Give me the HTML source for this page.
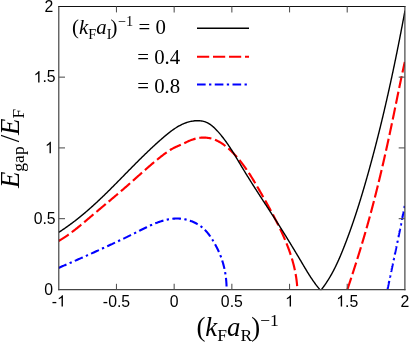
<!DOCTYPE html>
<html><head><meta charset="utf-8"><style>
html,body{margin:0;padding:0;background:#fff;}
svg{display:block;will-change:transform;opacity:0.9999}
.t text{font-family:"Liberation Sans",sans-serif;font-size:15.8px;fill:#000}
.s{font-family:"Liberation Serif",serif;fill:#000}
.i{font-style:italic}
</style></head><body>
<svg width="409" height="342" viewBox="0 0 409 342">
<rect width="409" height="342" fill="#fff"/>
<defs><clipPath id="c"><rect x="58.8" y="6.4" width="346.09999999999997" height="283.8"/></clipPath></defs>
<g clip-path="url(#c)" fill="none">
<path d="M58.54,267.92L59.07,267.69L59.60,267.46L60.13,267.23L60.66,267.00L61.19,266.77L61.72,266.54L62.24,266.31L62.77,266.09L63.30,265.86L63.83,265.63L64.35,265.40L64.88,265.17L65.40,264.95L65.93,264.72L66.45,264.49L66.98,264.26L67.50,264.03L68.02,263.81L68.55,263.58L69.07,263.35L69.59,263.13L70.11,262.90L70.63,262.67L71.15,262.44L71.67,262.22L72.19,261.99L72.71,261.76L73.23,261.54L73.75,261.31L74.27,261.08L74.78,260.86L75.30,260.63L75.82,260.40L76.34,260.18L76.85,259.95L77.37,259.72L77.88,259.50L78.40,259.27L78.91,259.04L79.43,258.82L79.94,258.59L80.46,258.36L80.97,258.14L81.49,257.91L82.00,257.68L82.51,257.46L83.02,257.23L83.54,257.00L84.05,256.77L84.56,256.55L85.07,256.32L85.58,256.09L86.09,255.87L86.60,255.64L87.11,255.41L87.63,255.18L88.14,254.96L88.65,254.73L89.15,254.50L89.66,254.27L90.17,254.05L90.68,253.82L91.19,253.59L91.70,253.36L92.21,253.13L92.72,252.90L93.22,252.68L93.73,252.45L94.24,252.22L94.75,251.99L95.25,251.76L95.76,251.53L96.27,251.30L96.78,251.07L97.28,250.84L97.79,250.61L98.30,250.38L98.80,250.15L99.31,249.92L99.81,249.69L100.32,249.46L100.83,249.23L101.33,249.00L101.84,248.77L102.34,248.54L102.85,248.30L103.35,248.07L103.86,247.84L104.36,247.61L104.87,247.38L105.38,247.14L105.88,246.91L106.39,246.68L106.89,246.44L107.40,246.21L107.90,245.97L108.41,245.74L108.91,245.51L109.42,245.27L109.92,245.04L110.43,244.80L110.93,244.57L111.44,244.33L111.94,244.09L112.45,243.86L112.95,243.62L113.46,243.38L113.96,243.15L114.47,242.91L114.97,242.67L115.48,242.43L115.98,242.19L116.49,241.96L116.99,241.72L117.50,241.48L118.00,241.24L118.51,241.00L119.02,240.76L119.52,240.52L120.03,240.27L120.53,240.03L121.04,239.79L121.55,239.55L122.05,239.31L122.56,239.06L123.07,238.82L123.57,238.58L124.08,238.33L124.59,238.09L125.09,237.84L125.60,237.60L126.11,237.35L126.62,237.11L127.12,236.86L127.63,236.61L128.14,236.36L128.65,236.12L129.16,235.87L129.67,235.62L130.18,235.37L130.69,235.12L131.19,234.87L131.70,234.62L132.21,234.37L132.72,234.12L133.23,233.87L133.75,233.62L134.26,233.36L134.77,233.11L135.28,232.86L135.79,232.60L136.30,232.35L136.81,232.09L137.33,231.84L137.84,231.58L138.35,231.32L138.87,231.07L139.38,230.81L139.89,230.55L140.41,230.30L140.92,230.04L141.44,229.78L141.95,229.53L142.47,229.27L142.98,229.01L143.50,228.76L144.02,228.50L144.53,228.25L145.05,228.00L145.57,227.75L146.09,227.50L146.60,227.25L147.12,227.00L147.64,226.75L148.16,226.51L148.68,226.26L149.20,226.02L149.72,225.78L150.24,225.54L150.77,225.31L151.29,225.08L151.81,224.84L152.33,224.62L152.86,224.39L153.38,224.17L153.90,223.95L154.43,223.73L154.95,223.51L155.48,223.30L156.01,223.09L156.53,222.89L157.06,222.68L157.59,222.49L158.11,222.29L158.64,222.10L159.17,221.91L159.70,221.73L160.23,221.55L160.76,221.37L161.29,221.20L161.82,221.03L162.36,220.87L162.89,220.71L163.42,220.56L163.96,220.41L164.49,220.26L165.02,220.12L165.56,219.99L166.10,219.86L166.63,219.74L167.17,219.62L167.71,219.50L168.25,219.40L168.78,219.30L169.32,219.20L169.86,219.11L170.40,219.03L170.95,218.95L171.49,218.88L172.03,218.81L172.57,218.75L173.12,218.70L173.66,218.65L174.21,218.61L174.75,218.58L175.30,218.55L175.85,218.54L176.39,218.53L176.94,218.52L177.49,218.52L178.04,218.54L178.59,218.55L179.14,218.58L179.69,218.61L180.25,218.66L180.80,218.70L181.35,218.76L181.91,218.83L182.46,218.90L183.02,218.98L183.57,219.07L184.13,219.17L184.68,219.28L185.24,219.39L185.79,219.51L186.34,219.64L186.90,219.78L187.45,219.92L188.00,220.08L188.54,220.24L189.09,220.40L189.63,220.58L190.17,220.76L190.71,220.95L191.25,221.15L191.78,221.35L192.32,221.57L192.84,221.79L193.37,222.01L193.89,222.25L194.41,222.49L194.92,222.74L195.44,222.99L195.94,223.26L196.44,223.53L196.94,223.80L197.44,224.09L197.93,224.38L198.41,224.68L198.89,224.98L199.36,225.30L199.83,225.61L200.29,225.94L200.75,226.27L201.20,226.61L201.64,226.96L202.08,227.31L202.51,227.67L202.94,228.04L203.36,228.41L203.77,228.79L204.18,229.17L204.58,229.56L204.97,229.96L205.36,230.36L205.75,230.76L206.13,231.18L206.50,231.59L206.87,232.01L207.23,232.44L207.59,232.87L207.94,233.31L208.29,233.75L208.63,234.19L208.97,234.64L209.31,235.09L209.64,235.54L209.97,236.00L210.29,236.46L210.61,236.93L210.93,237.40L211.24,237.87L211.55,238.34L211.86,238.82L212.16,239.29L212.46,239.77L212.76,240.26L213.05,240.74L213.34,241.23L213.63,241.71L213.92,242.20L214.20,242.69L214.49,243.18L214.77,243.68L215.04,244.17L215.32,244.66L215.59,245.16L215.86,245.66L216.12,246.16L216.39,246.66L216.65,247.16L216.90,247.66L217.16,248.16L217.41,248.67L217.66,249.18L217.90,249.68L218.14,250.19L218.38,250.70L218.61,251.21L218.84,251.73L219.07,252.24L219.29,252.75L219.51,253.27L219.73,253.79L219.94,254.30L220.15,254.82L220.36,255.34L220.56,255.87L220.76,256.39L220.96,256.91L221.15,257.44L221.34,257.96L221.52,258.49L221.70,259.02L221.88,259.55L222.06,260.08L222.23,260.61L222.40,261.14L222.56,261.67L222.73,262.21L222.89,262.74L223.04,263.28L223.19,263.82L223.34,264.35L223.49,264.89L223.63,265.43L223.77,265.97L223.90,266.52L224.03,267.06L224.16,267.60L224.28,268.15L224.41,268.69L224.52,269.24L224.64,269.79L224.75,270.34L224.86,270.89L224.96,271.44L225.07,271.99L225.16,272.54L225.26,273.09L225.35,273.64L225.44,274.20L225.52,274.75L225.61,275.31L225.68,275.87L225.76,276.42L225.83,276.98L225.90,277.54L225.97,278.10L226.03,278.66L226.09,279.22L226.14,279.79L226.19,280.35L226.24,280.91L226.29,281.48L226.33,282.04L226.37,282.61L226.41,283.17L226.44,283.74L226.47,284.31L226.50,284.88L226.52,285.45L226.54,286.01L226.56,286.58L226.57,287.16L226.58,287.73L226.59,288.30L226.59,288.87L226.59,289.45" stroke="#00f" stroke-width="2.1" stroke-dasharray="8.65 3.4 2.3 3.4"/>
<path d="M387.52,289.40L387.56,289.19L387.60,288.98L387.65,288.77L387.69,288.56L387.73,288.34L387.78,288.13L387.82,287.92L387.87,287.71L387.91,287.50L387.95,287.29L388.00,287.07L388.04,286.86L388.09,286.65L388.13,286.44L388.17,286.23L388.22,286.02L388.26,285.80L388.30,285.59L388.35,285.38L388.39,285.17L388.44,284.96L388.48,284.74L388.52,284.53L388.57,284.32L388.61,284.11L388.66,283.90L388.70,283.69L388.74,283.47L388.79,283.26L388.83,283.05L388.88,282.84L388.92,282.63L388.97,282.42L389.01,282.20L389.05,281.99L389.10,281.78L389.14,281.57L389.19,281.36L389.23,281.15L389.27,280.93L389.32,280.72L389.36,280.51L389.41,280.30L389.45,280.09L389.50,279.88L389.54,279.66L389.58,279.45L389.63,279.24L389.67,279.03L389.72,278.82L389.76,278.61L389.81,278.39L389.85,278.18L389.89,277.97L389.94,277.76L389.98,277.55L390.03,277.34L390.07,277.12L390.12,276.91L390.16,276.70L390.20,276.49L390.25,276.28L390.29,276.07L390.34,275.85L390.38,275.64L390.43,275.43L390.47,275.22L390.51,275.01L390.56,274.80L390.60,274.59L390.65,274.37L390.69,274.16L390.74,273.95L390.78,273.74L390.83,273.53L390.87,273.32L390.91,273.10L390.96,272.89L391.00,272.68L391.05,272.47L391.09,272.26L391.14,272.05L391.18,271.83L391.23,271.62L391.27,271.41L391.31,271.20L391.36,270.99L391.40,270.78L391.45,270.56L391.49,270.35L391.54,270.14L391.58,269.93L391.63,269.72L391.67,269.51L391.71,269.29L391.76,269.08L391.80,268.87L391.85,268.66L391.89,268.45L391.94,268.24L391.98,268.03L392.03,267.81L392.07,267.60L392.12,267.39L392.16,267.18L392.20,266.97L392.25,266.76L392.29,266.54L392.34,266.33L392.38,266.12L392.43,265.91L392.47,265.70L392.52,265.49L392.56,265.27L392.61,265.06L392.65,264.85L392.69,264.64L392.74,264.43L392.78,264.22L392.83,264.01L392.87,263.79L392.92,263.58L392.96,263.37L393.01,263.16L393.05,262.95L393.10,262.74L393.14,262.52L393.19,262.31L393.23,262.10L393.27,261.89L393.32,261.68L393.36,261.47L393.41,261.25L393.45,261.04L393.50,260.83L393.54,260.62L393.59,260.41L393.63,260.20L393.68,259.99L393.72,259.77L393.76,259.56L393.81,259.35L393.85,259.14L393.90,258.93L393.94,258.72L393.99,258.50L394.03,258.29L394.08,258.08L394.12,257.87L394.17,257.66L394.21,257.45L394.25,257.23L394.30,257.02L394.34,256.81L394.39,256.60L394.43,256.39L394.48,256.18L394.52,255.97L394.57,255.75L394.61,255.54L394.65,255.33L394.70,255.12L394.74,254.91L394.79,254.70L394.83,254.48L394.88,254.27L394.92,254.06L394.97,253.85L395.01,253.64L395.06,253.43L395.10,253.21L395.14,253.00L395.19,252.79L395.23,252.58L395.28,252.37L395.32,252.16L395.37,251.94L395.41,251.73L395.46,251.52L395.50,251.31L395.54,251.10L395.59,250.89L395.63,250.68L395.68,250.46L395.72,250.25L395.77,250.04L395.81,249.83L395.85,249.62L395.90,249.41L395.94,249.19L395.99,248.98L396.03,248.77L396.08,248.56L396.12,248.35L396.16,248.14L396.21,247.92L396.25,247.71L396.30,247.50L396.34,247.29L396.39,247.08L396.43,246.87L396.47,246.65L396.52,246.44L396.56,246.23L396.61,246.02L396.65,245.81L396.70,245.60L396.74,245.38L396.78,245.17L396.83,244.96L396.87,244.75L396.92,244.54L396.96,244.33L397.00,244.11L397.05,243.90L397.09,243.69L397.14,243.48L397.18,243.27L397.23,243.06L397.27,242.84L397.31,242.63L397.36,242.42L397.40,242.21L397.45,242.00L397.49,241.79L397.53,241.57L397.58,241.36L397.62,241.15L397.67,240.94L397.71,240.73L397.75,240.52L397.80,240.30L397.84,240.09L397.89,239.88L397.93,239.67L397.97,239.46L398.02,239.25L398.06,239.03L398.11,238.82L398.15,238.61L398.19,238.40L398.24,238.19L398.28,237.98L398.32,237.76L398.37,237.55L398.41,237.34L398.46,237.13L398.50,236.92L398.54,236.70L398.59,236.49L398.63,236.28L398.67,236.07L398.72,235.86L398.76,235.65L398.81,235.43L398.85,235.22L398.89,235.01L398.94,234.80L398.98,234.59L399.02,234.38L399.07,234.16L399.11,233.95L399.15,233.74L399.20,233.53L399.24,233.32L399.28,233.10L399.33,232.89L399.37,232.68L399.42,232.47L399.46,232.26L399.50,232.05L399.55,231.83L399.59,231.62L399.63,231.41L399.68,231.20L399.72,230.99L399.76,230.77L399.81,230.56L399.85,230.35L399.89,230.14L399.94,229.93L399.98,229.72L400.02,229.50L400.07,229.29L400.11,229.08L400.15,228.87L400.19,228.66L400.24,228.44L400.28,228.23L400.32,228.02L400.37,227.81L400.41,227.60L400.45,227.39L400.50,227.17L400.54,226.96L400.58,226.75L400.63,226.54L400.67,226.33L400.71,226.11L400.75,225.90L400.80,225.69L400.84,225.48L400.88,225.27L400.93,225.05L400.97,224.84L401.01,224.63L401.05,224.42L401.10,224.21L401.14,223.99L401.18,223.78L401.23,223.57L401.27,223.36L401.31,223.15L401.35,222.93L401.40,222.72L401.44,222.51L401.48,222.30L401.52,222.09L401.57,221.87L401.61,221.66L401.65,221.45L401.69,221.24L401.74,221.03L401.78,220.81L401.82,220.60L401.86,220.39L401.91,220.18L401.95,219.97L401.99,219.75L402.03,219.54L402.08,219.33L402.12,219.12L402.16,218.91L402.20,218.69L402.24,218.48L402.29,218.27L402.33,218.06L402.37,217.85L402.41,217.63L402.46,217.42L402.50,217.21L402.54,217.00L402.58,216.79L402.62,216.57L402.67,216.36L402.71,216.15L402.75,215.94L402.79,215.72L402.83,215.51L402.87,215.30L402.92,215.09L402.96,214.88L403.00,214.66L403.04,214.45L403.08,214.24L403.13,214.03L403.17,213.82L403.21,213.60L403.25,213.39L403.29,213.18L403.33,212.97L403.38,212.75L403.42,212.54L403.46,212.33L403.50,212.12L403.54,211.91L403.58,211.69L403.62,211.48L403.67,211.27L403.71,211.06L403.75,210.84L403.79,210.63L403.83,210.42L403.87,210.21L403.91,210.00L403.95,209.78L404.00,209.57L404.04,209.36L404.08,209.15L404.12,208.93L404.16,208.72L404.20,208.51L404.24,208.30L404.28,208.08L404.32,207.87L404.37,207.66L404.41,207.45L404.45,207.24L404.49,207.02L404.53,206.81L404.57,206.60L404.61,206.39L404.65,206.17L404.69,205.96L404.73,205.75L404.77,205.54L404.81,205.32L404.85,205.11L404.89,204.90" stroke="#00f" stroke-width="2.1" stroke-dasharray="8.65 3.4 2.3 3.4"/>
<path d="M58.59,240.99L59.39,240.52L60.19,240.05L60.98,239.57L61.77,239.09L62.55,238.60L63.33,238.10L64.11,237.60L64.88,237.09L65.65,236.58L66.41,236.06L67.17,235.54L67.92,235.01L68.67,234.48L69.42,233.94L70.17,233.40L70.91,232.86L71.65,232.31L72.38,231.75L73.12,231.20L73.85,230.64L74.57,230.07L75.30,229.51L76.02,228.94L76.74,228.36L77.46,227.79L78.18,227.21L78.89,226.63L79.60,226.05L80.31,225.46L81.02,224.87L81.73,224.29L82.44,223.70L83.15,223.10L83.85,222.51L84.56,221.92L85.26,221.32L85.96,220.73L86.66,220.13L87.37,219.53L88.07,218.94L88.77,218.34L89.47,217.74L90.17,217.15L90.88,216.55L91.58,215.95L92.28,215.36L92.99,214.76L93.69,214.17L94.39,213.57L95.10,212.98L95.80,212.38L96.51,211.79L97.21,211.20L97.92,210.61L98.62,210.01L99.33,209.42L100.03,208.83L100.74,208.24L101.45,207.65L102.15,207.05L102.86,206.46L103.56,205.87L104.27,205.28L104.98,204.69L105.68,204.10L106.39,203.51L107.09,202.91L107.80,202.32L108.51,201.73L109.21,201.14L109.92,200.55L110.62,199.95L111.33,199.36L112.03,198.77L112.74,198.18L113.44,197.58L114.14,196.99L114.85,196.39L115.55,195.80L116.25,195.20L116.96,194.61L117.66,194.01L118.36,193.42L119.06,192.82L119.76,192.22L120.46,191.62L121.16,191.02L121.86,190.42L122.56,189.82L123.26,189.22L123.95,188.62L124.65,188.02L125.34,187.41L126.04,186.81L126.73,186.20L127.43,185.60L128.12,184.99L128.81,184.38L129.50,183.77L130.20,183.16L130.89,182.55L131.57,181.94L132.26,181.33L132.95,180.72L133.64,180.11L134.33,179.49L135.02,178.88L135.70,178.27L136.39,177.65L137.08,177.04L137.77,176.43L138.45,175.81L139.14,175.20L139.83,174.59L140.52,173.97L141.21,173.36L141.90,172.75L142.59,172.14L143.28,171.53L143.97,170.92L144.66,170.31L145.35,169.70L146.04,169.09L146.73,168.49L147.43,167.88L148.12,167.28L148.82,166.68L149.52,166.08L150.22,165.48L150.92,164.88L151.62,164.28L152.32,163.69L153.02,163.09L153.73,162.50L154.44,161.91L155.14,161.33L155.85,160.74L156.56,160.16L157.28,159.58L157.99,159.00L158.71,158.42L159.43,157.85L160.15,157.28L160.87,156.71L161.60,156.14L162.33,155.58L163.06,155.01L163.79,154.46L164.52,153.90L165.26,153.36L166.00,152.81L166.75,152.28L167.50,151.75L168.26,151.23L169.02,150.73L169.79,150.23L170.56,149.75L171.35,149.28L172.14,148.83L172.94,148.39L173.74,147.97L174.56,147.57L175.39,147.18L176.22,146.80L177.05,146.44L177.89,146.08L178.73,145.72L179.57,145.36L180.41,145.00L181.24,144.63L182.07,144.25L182.90,143.87L183.72,143.47L184.54,143.08L185.36,142.67L186.18,142.27L187.00,141.88L187.83,141.48L188.67,141.10L189.51,140.73L190.36,140.37L191.22,140.03L192.10,139.70L192.98,139.40L193.88,139.12L194.78,138.85L195.70,138.61L196.62,138.40L197.54,138.20L198.47,138.03L199.40,137.89L200.33,137.77L201.27,137.68L202.20,137.61L203.13,137.57L204.05,137.56L204.97,137.58L205.88,137.63L206.79,137.71L207.69,137.81L208.58,137.95L209.46,138.11L210.34,138.30L211.21,138.52L212.07,138.76L212.92,139.03L213.77,139.32L214.61,139.64L215.44,139.98L216.26,140.34L217.08,140.72L217.89,141.12L218.69,141.54L219.48,141.98L220.27,142.44L221.05,142.92L221.82,143.42L222.59,143.93L223.35,144.45L224.10,145.00L224.84,145.55L225.58,146.12L226.31,146.70L227.03,147.30L227.74,147.90L228.45,148.52L229.15,149.15L229.84,149.78L230.53,150.42L231.21,151.08L231.88,151.73L232.54,152.40L233.20,153.07L233.85,153.74L234.49,154.42L235.13,155.11L235.76,155.80L236.38,156.49L237.00,157.18L237.60,157.88L238.21,158.59L238.80,159.30L239.39,160.01L239.98,160.72L240.56,161.44L241.13,162.17L241.70,162.89L242.26,163.62L242.82,164.35L243.37,165.09L243.92,165.83L244.46,166.57L245.00,167.32L245.53,168.06L246.06,168.81L246.58,169.57L247.10,170.32L247.62,171.08L248.13,171.84L248.64,172.61L249.14,173.37L249.64,174.14L250.14,174.91L250.63,175.68L251.13,176.46L251.61,177.23L252.10,178.01L252.58,178.79L253.06,179.57L253.54,180.36L254.02,181.14L254.49,181.93L254.96,182.72L255.43,183.50L255.90,184.29L256.36,185.09L256.83,185.88L257.29,186.67L257.75,187.46L258.22,188.26L258.68,189.05L259.13,189.85L259.59,190.65L260.05,191.44L260.51,192.24L260.97,193.04L261.42,193.84L261.88,194.64L262.34,195.44L262.79,196.24L263.25,197.04L263.70,197.84L264.15,198.64L264.61,199.44L265.06,200.24L265.51,201.04L265.96,201.85L266.41,202.65L266.86,203.46L267.30,204.26L267.75,205.07L268.20,205.87L268.64,206.68L269.08,207.49L269.53,208.30L269.97,209.11L270.41,209.92L270.85,210.73L271.28,211.54L271.72,212.35L272.15,213.16L272.58,213.98L273.02,214.79L273.44,215.61L273.87,216.42L274.30,217.24L274.72,218.06L275.15,218.88L275.57,219.70L275.99,220.52L276.40,221.34L276.82,222.16L277.23,222.99L277.64,223.81L278.05,224.64L278.46,225.47L278.86,226.29L279.27,227.12L279.67,227.95L280.07,228.78L280.46,229.62L280.86,230.45L281.25,231.29L281.63,232.12L282.02,232.96L282.40,233.80L282.78,234.64L283.16,235.48L283.53,236.32L283.90,237.16L284.27,238.01L284.63,238.85L284.99,239.70L285.35,240.55L285.71,241.40L286.06,242.25L286.40,243.10L286.74,243.95L287.08,244.81L287.42,245.66L287.75,246.52L288.07,247.38L288.40,248.24L288.72,249.10L289.03,249.96L289.34,250.83L289.64,251.69L289.94,252.56L290.24,253.43L290.53,254.30L290.82,255.17L291.10,256.04L291.37,256.91L291.65,257.79L291.91,258.66L292.17,259.54L292.43,260.42L292.68,261.30L292.92,262.19L293.16,263.07L293.40,263.96L293.63,264.84L293.85,265.73L294.07,266.62L294.28,267.52L294.48,268.41L294.68,269.31L294.87,270.20L295.06,271.10L295.24,272.00L295.41,272.90L295.58,273.81L295.74,274.71L295.89,275.62L296.04,276.53L296.18,277.44L296.32,278.35L296.44,279.26L296.56,280.18L296.67,281.10L296.78,282.02L296.88,282.94L296.97,283.86L297.05,284.78L297.13,285.71L297.20,286.64L297.26,287.57L297.31,288.50L297.36,289.43" stroke="#f00" stroke-width="2.15" stroke-dasharray="12.2 3.8" stroke-dashoffset="0.2"/>
<path d="M347.43,289.38L347.61,288.82L347.80,288.26L347.98,287.70L348.17,287.14L348.36,286.58L348.54,286.03L348.73,285.47L348.91,284.91L349.10,284.35L349.28,283.79L349.47,283.23L349.65,282.67L349.83,282.11L350.02,281.55L350.20,281.00L350.39,280.44L350.57,279.88L350.75,279.32L350.94,278.76L351.12,278.20L351.30,277.64L351.49,277.08L351.67,276.52L351.85,275.96L352.03,275.40L352.22,274.85L352.40,274.29L352.58,273.73L352.76,273.17L352.94,272.61L353.13,272.05L353.31,271.49L353.49,270.93L353.67,270.37L353.85,269.81L354.03,269.25L354.21,268.69L354.39,268.13L354.57,267.57L354.75,267.01L354.93,266.45L355.11,265.89L355.29,265.33L355.47,264.77L355.65,264.21L355.83,263.65L356.00,263.09L356.18,262.53L356.36,261.96L356.54,261.40L356.72,260.84L356.89,260.28L357.07,259.72L357.25,259.16L357.42,258.60L357.60,258.04L357.78,257.48L357.95,256.92L358.13,256.35L358.30,255.79L358.48,255.23L358.65,254.67L358.83,254.11L359.00,253.55L359.18,252.99L359.35,252.42L359.52,251.86L359.70,251.30L359.87,250.74L360.04,250.18L360.22,249.61L360.39,249.05L360.56,248.49L360.73,247.93L360.90,247.36L361.07,246.80L361.25,246.24L361.42,245.68L361.59,245.11L361.76,244.55L361.93,243.99L362.10,243.42L362.27,242.86L362.44,242.30L362.60,241.73L362.77,241.17L362.94,240.61L363.11,240.04L363.28,239.48L363.44,238.92L363.61,238.35L363.78,237.79L363.94,237.22L364.11,236.66L364.28,236.10L364.44,235.53L364.61,234.97L364.77,234.40L364.94,233.84L365.10,233.27L365.26,232.71L365.43,232.14L365.59,231.58L365.75,231.01L365.92,230.45L366.08,229.88L366.24,229.32L366.40,228.75L366.56,228.19L366.72,227.62L366.89,227.06L367.05,226.49L367.21,225.92L367.37,225.36L367.53,224.79L367.68,224.23L367.84,223.66L368.00,223.09L368.16,222.53L368.32,221.96L368.48,221.39L368.63,220.83L368.79,220.26L368.95,219.69L369.10,219.13L369.26,218.56L369.42,217.99L369.57,217.43L369.73,216.86L369.88,216.29L370.04,215.72L370.19,215.16L370.35,214.59L370.50,214.02L370.65,213.45L370.81,212.89L370.96,212.32L371.11,211.75L371.27,211.18L371.42,210.61L371.57,210.05L371.72,209.48L371.87,208.91L372.02,208.34L372.18,207.77L372.33,207.20L372.48,206.64L372.63,206.07L372.78,205.50L372.93,204.93L373.07,204.36L373.22,203.79L373.37,203.22L373.52,202.65L373.67,202.08L373.82,201.51L373.96,200.94L374.11,200.38L374.26,199.81L374.41,199.24L374.55,198.67L374.70,198.10L374.85,197.53L374.99,196.96L375.14,196.39L375.28,195.82L375.43,195.25L375.57,194.68L375.72,194.11L375.86,193.54L376.00,192.97L376.15,192.40L376.29,191.83L376.44,191.25L376.58,190.68L376.72,190.11L376.86,189.54L377.01,188.97L377.15,188.40L377.29,187.83L377.43,187.26L377.57,186.69L377.71,186.12L377.85,185.55L378.00,184.97L378.14,184.40L378.28,183.83L378.42,183.26L378.56,182.69L378.70,182.12L378.83,181.55L378.97,180.97L379.11,180.40L379.25,179.83L379.39,179.26L379.53,178.69L379.66,178.11L379.80,177.54L379.94,176.97L380.08,176.40L380.21,175.83L380.35,175.25L380.49,174.68L380.62,174.11L380.76,173.54L380.90,172.96L381.03,172.39L381.17,171.82L381.30,171.25L381.44,170.67L381.57,170.10L381.71,169.53L381.84,168.96L381.97,168.38L382.11,167.81L382.24,167.24L382.38,166.66L382.51,166.09L382.64,165.52L382.77,164.94L382.91,164.37L383.04,163.80L383.17,163.22L383.30,162.65L383.44,162.08L383.57,161.50L383.70,160.93L383.83,160.36L383.96,159.78L384.09,159.21L384.22,158.64L384.35,158.06L384.48,157.49L384.61,156.92L384.74,156.34L384.87,155.77L385.00,155.19L385.13,154.62L385.26,154.05L385.39,153.47L385.52,152.90L385.65,152.32L385.78,151.75L385.90,151.18L386.03,150.60L386.16,150.03L386.29,149.45L386.42,148.88L386.54,148.30L386.67,147.73L386.80,147.15L386.92,146.58L387.05,146.01L387.18,145.43L387.30,144.86L387.43,144.28L387.56,143.71L387.68,143.13L387.81,142.56L387.93,141.98L388.06,141.41L388.18,140.83L388.31,140.26L388.43,139.68L388.56,139.11L388.68,138.53L388.81,137.96L388.93,137.38L389.06,136.81L389.18,136.23L389.30,135.66L389.43,135.08L389.55,134.51L389.68,133.93L389.80,133.36L389.92,132.78L390.04,132.20L390.17,131.63L390.29,131.05L390.41,130.48L390.53,129.90L390.66,129.33L390.78,128.75L390.90,128.18L391.02,127.60L391.14,127.02L391.27,126.45L391.39,125.87L391.51,125.30L391.63,124.72L391.75,124.15L391.87,123.57L391.99,122.99L392.11,122.42L392.23,121.84L392.35,121.27L392.47,120.69L392.59,120.11L392.71,119.54L392.83,118.96L392.95,118.39L393.07,117.81L393.19,117.23L393.31,116.66L393.43,116.08L393.55,115.51L393.67,114.93L393.79,114.35L393.91,113.78L394.03,113.20L394.14,112.63L394.26,112.05L394.38,111.47L394.50,110.90L394.62,110.32L394.74,109.74L394.85,109.17L394.97,108.59L395.09,108.02L395.21,107.44L395.33,106.86L395.44,106.29L395.56,105.71L395.68,105.13L395.80,104.56L395.92,103.98L396.03,103.40L396.15,102.83L396.27,102.25L396.39,101.68L396.50,101.10L396.62,100.52L396.74,99.95L396.86,99.37L396.98,98.79L397.09,98.22L397.21,97.64L397.33,97.07L397.45,96.49L397.56,95.91L397.68,95.34L397.80,94.76L397.92,94.18L398.04,93.61L398.15,93.03L398.27,92.46L398.39,91.88L398.51,91.30L398.63,90.73L398.75,90.15L398.87,89.58L398.99,89.00L399.10,88.42L399.22,87.85L399.34,87.27L399.46,86.70L399.58,86.12L399.70,85.54L399.82,84.97L399.94,84.39L400.06,83.82L400.18,83.24L400.30,82.67L400.42,82.09L400.54,81.52L400.66,80.94L400.78,80.36L400.91,79.79L401.03,79.21L401.15,78.64L401.27,78.06L401.39,77.49L401.52,76.91L401.64,76.34L401.76,75.76L401.88,75.19L402.01,74.61L402.13,74.04L402.25,73.46L402.38,72.89L402.50,72.31L402.63,71.74L402.75,71.16L402.88,70.59L403.00,70.01L403.13,69.44L403.25,68.87L403.38,68.29L403.50,67.72L403.63,67.14L403.76,66.57L403.89,65.99L404.01,65.42L404.14,64.85L404.27,64.27L404.40,63.70L404.53,63.13L404.66,62.55L404.79,61.98" stroke="#f00" stroke-width="2.15" stroke-dasharray="12.2 3.8"/>
<path d="M58.55,232.44L59.40,231.89L60.24,231.34L61.08,230.79L61.92,230.24L62.76,229.68L63.59,229.12L64.42,228.55L65.24,227.98L66.07,227.41L66.88,226.84L67.70,226.26L68.51,225.68L69.32,225.10L70.12,224.51L70.92,223.92L71.72,223.33L72.52,222.73L73.31,222.14L74.10,221.54L74.89,220.93L75.67,220.33L76.45,219.72L77.23,219.10L78.01,218.49L78.78,217.87L79.55,217.25L80.32,216.63L81.08,216.01L81.84,215.38L82.60,214.75L83.36,214.12L84.12,213.49L84.87,212.85L85.62,212.21L86.37,211.57L87.11,210.93L87.86,210.28L88.60,209.63L89.34,208.99L90.08,208.33L90.81,207.68L91.54,207.03L92.28,206.37L93.01,205.71L93.73,205.05L94.46,204.39L95.18,203.72L95.91,203.06L96.63,202.39L97.35,201.72L98.06,201.05L98.78,200.38L99.49,199.70L100.21,199.03L100.92,198.35L101.63,197.68L102.34,197.00L103.04,196.32L103.75,195.63L104.46,194.95L105.16,194.27L105.86,193.58L106.56,192.89L107.26,192.21L107.96,191.52L108.66,190.83L109.36,190.14L110.06,189.44L110.75,188.75L111.45,188.06L112.14,187.36L112.84,186.67L113.53,185.97L114.22,185.28L114.92,184.58L115.61,183.88L116.30,183.18L116.99,182.48L117.68,181.78L118.37,181.08L119.06,180.38L119.75,179.68L120.44,178.98L121.13,178.28L121.82,177.58L122.51,176.88L123.20,176.17L123.89,175.47L124.57,174.77L125.26,174.07L125.95,173.36L126.64,172.66L127.33,171.96L128.02,171.26L128.71,170.55L129.40,169.85L130.09,169.15L130.79,168.45L131.48,167.74L132.17,167.04L132.86,166.34L133.56,165.64L134.25,164.94L134.95,164.24L135.64,163.54L136.34,162.84L137.03,162.14L137.73,161.45L138.43,160.75L139.13,160.05L139.83,159.36L140.53,158.66L141.24,157.97L141.94,157.28L142.65,156.58L143.35,155.89L144.06,155.20L144.77,154.51L145.48,153.82L146.19,153.13L146.91,152.45L147.62,151.76L148.34,151.08L149.06,150.40L149.78,149.71L150.50,149.03L151.22,148.35L151.94,147.68L152.67,147.00L153.40,146.33L154.13,145.65L154.86,144.98L155.59,144.31L156.33,143.64L157.07,142.97L157.81,142.31L158.55,141.64L159.29,140.98L160.04,140.32L160.79,139.66L161.54,139.01L162.29,138.35L163.05,137.70L163.81,137.05L164.57,136.40L165.33,135.76L166.10,135.12L166.87,134.48L167.64,133.85L168.42,133.22L169.20,132.61L169.99,132.00L170.78,131.39L171.57,130.80L172.37,130.22L173.18,129.65L173.99,129.08L174.81,128.53L175.63,127.99L176.46,127.47L177.30,126.96L178.14,126.46L178.99,125.98L179.84,125.52L180.71,125.07L181.58,124.64L182.46,124.22L183.35,123.83L184.24,123.45L185.15,123.10L186.06,122.77L186.99,122.45L187.92,122.16L188.86,121.90L189.81,121.65L190.78,121.44L191.75,121.24L192.73,121.07L193.72,120.93L194.72,120.82L195.71,120.74L196.71,120.69L197.71,120.68L198.71,120.70L199.70,120.76L200.68,120.85L201.65,120.98L202.61,121.16L203.56,121.37L204.49,121.63L205.40,121.94L206.30,122.29L207.17,122.68L208.02,123.12L208.86,123.60L209.68,124.11L210.48,124.65L211.27,125.23L212.04,125.83L212.80,126.46L213.54,127.12L214.27,127.79L214.99,128.49L215.69,129.20L216.39,129.92L217.07,130.65L217.75,131.39L218.42,132.14L219.08,132.89L219.73,133.64L220.37,134.41L221.01,135.17L221.63,135.94L222.25,136.72L222.87,137.50L223.47,138.28L224.07,139.07L224.67,139.87L225.25,140.66L225.84,141.46L226.41,142.27L226.98,143.07L227.55,143.88L228.11,144.70L228.66,145.52L229.21,146.34L229.76,147.16L230.30,147.98L230.83,148.81L231.37,149.64L231.90,150.47L232.43,151.31L232.95,152.14L233.47,152.98L233.99,153.82L234.51,154.66L235.02,155.51L235.53,156.35L236.04,157.20L236.55,158.04L237.06,158.89L237.56,159.74L238.07,160.58L238.57,161.43L239.08,162.28L239.58,163.13L240.09,163.98L240.59,164.83L241.10,165.68L241.60,166.52L242.11,167.37L242.62,168.22L243.13,169.07L243.64,169.91L244.15,170.75L244.66,171.60L245.18,172.44L245.69,173.28L246.21,174.12L246.73,174.96L247.24,175.80L247.76,176.64L248.29,177.48L248.81,178.32L249.33,179.16L249.85,179.99L250.38,180.83L250.90,181.66L251.43,182.50L251.96,183.33L252.49,184.17L253.02,185.00L253.55,185.83L254.08,186.67L254.61,187.50L255.14,188.33L255.67,189.16L256.20,189.99L256.74,190.82L257.27,191.65L257.81,192.48L258.34,193.31L258.88,194.14L259.41,194.97L259.95,195.80L260.49,196.63L261.02,197.46L261.56,198.28L262.10,199.11L262.63,199.94L263.17,200.77L263.71,201.60L264.25,202.42L264.79,203.25L265.32,204.08L265.86,204.91L266.40,205.73L266.94,206.56L267.48,207.39L268.01,208.21L268.55,209.04L269.09,209.87L269.63,210.70L270.16,211.52L270.70,212.35L271.24,213.18L271.77,214.01L272.31,214.84L272.85,215.66L273.38,216.49L273.92,217.32L274.45,218.15L274.98,218.98L275.52,219.81L276.05,220.64L276.58,221.47L277.11,222.30L277.64,223.13L278.17,223.97L278.70,224.80L279.23,225.63L279.76,226.46L280.29,227.30L280.81,228.13L281.34,228.96L281.86,229.80L282.39,230.63L282.91,231.47L283.43,232.30L283.95,233.14L284.48,233.98L285.00,234.81L285.52,235.65L286.04,236.49L286.55,237.33L287.07,238.17L287.59,239.01L288.11,239.85L288.62,240.69L289.14,241.53L289.65,242.37L290.17,243.21L290.68,244.05L291.19,244.89L291.70,245.74L292.22,246.58L292.73,247.42L293.24,248.27L293.75,249.11L294.26,249.96L294.77,250.80L295.28,251.65L295.78,252.49L296.29,253.34L296.80,254.19L297.31,255.03L297.81,255.88L298.32,256.73L298.82,257.58L299.33,258.43L299.83,259.28L300.33,260.13L300.84,260.98L301.34,261.83L301.84,262.68L302.35,263.53L302.85,264.38L303.35,265.23L303.86,266.08L304.36,266.93L304.87,267.78L305.37,268.63L305.88,269.48L306.39,270.32L306.90,271.17L307.42,272.01L307.94,272.85L308.46,273.69L308.98,274.52L309.51,275.36L310.04,276.19L310.58,277.01L311.12,277.84L311.66,278.66L312.21,279.48L312.77,280.29L313.33,281.10L313.89,281.90L314.47,282.70L315.05,283.50L315.63,284.29L316.22,285.07L316.82,285.85L317.43,286.63L318.04,287.40L318.66,288.16L319.29,288.92L319.93,289.67L320.57,290.41" stroke="#000" stroke-width="1.4"/>
<path d="M320.78,290.39L321.25,289.81L321.70,289.22L322.16,288.63L322.61,288.04L323.05,287.44L323.49,286.84L323.92,286.24L324.36,285.64L324.78,285.04L325.20,284.43L325.62,283.82L326.04,283.21L326.44,282.60L326.85,281.98L327.25,281.36L327.65,280.74L328.04,280.12L328.43,279.50L328.82,278.87L329.20,278.24L329.58,277.61L329.95,276.98L330.33,276.34L330.69,275.71L331.06,275.07L331.42,274.43L331.78,273.79L332.13,273.15L332.48,272.50L332.83,271.85L333.17,271.21L333.52,270.56L333.86,269.90L334.19,269.25L334.52,268.60L334.85,267.94L335.18,267.28L335.51,266.63L335.83,265.96L336.15,265.30L336.46,264.64L336.78,263.98L337.09,263.31L337.40,262.64L337.71,261.98L338.01,261.31L338.32,260.64L338.62,259.97L338.91,259.29L339.21,258.62L339.51,257.95L339.80,257.27L340.09,256.60L340.38,255.92L340.66,255.24L340.95,254.56L341.23,253.88L341.52,253.20L341.80,252.52L342.08,251.84L342.35,251.16L342.63,250.48L342.90,249.80L343.18,249.11L343.45,248.43L343.72,247.74L343.99,247.06L344.26,246.37L344.53,245.69L344.80,245.00L345.06,244.31L345.33,243.63L345.59,242.94L345.86,242.25L346.12,241.56L346.38,240.88L346.64,240.19L346.90,239.50L347.16,238.81L347.42,238.12L347.68,237.43L347.93,236.74L348.19,236.05L348.44,235.36L348.70,234.66L348.95,233.97L349.20,233.28L349.45,232.59L349.70,231.90L349.95,231.20L350.20,230.51L350.45,229.82L350.70,229.12L350.94,228.43L351.19,227.73L351.43,227.04L351.67,226.34L351.92,225.65L352.16,224.95L352.40,224.26L352.64,223.56L352.88,222.86L353.12,222.17L353.36,221.47L353.60,220.77L353.83,220.08L354.07,219.38L354.30,218.68L354.54,217.98L354.77,217.28L355.00,216.58L355.24,215.89L355.47,215.19L355.70,214.49L355.93,213.79L356.16,213.09L356.39,212.39L356.61,211.69L356.84,210.98L357.07,210.28L357.29,209.58L357.52,208.88L357.74,208.18L357.97,207.48L358.19,206.78L358.41,206.07L358.64,205.37L358.86,204.67L359.08,203.96L359.30,203.26L359.52,202.56L359.74,201.85L359.96,201.15L360.17,200.45L360.39,199.74L360.61,199.04L360.82,198.33L361.04,197.63L361.25,196.92L361.47,196.22L361.68,195.51L361.89,194.81L362.11,194.10L362.32,193.40L362.53,192.69L362.74,191.99L362.95,191.28L363.16,190.57L363.37,189.87L363.58,189.16L363.79,188.45L364.00,187.75L364.20,187.04L364.41,186.33L364.62,185.62L364.82,184.92L365.03,184.21L365.23,183.50L365.44,182.79L365.64,182.09L365.85,181.38L366.05,180.67L366.25,179.96L366.45,179.25L366.66,178.54L366.86,177.83L367.06,177.13L367.26,176.42L367.46,175.71L367.66,175.00L367.86,174.29L368.06,173.58L368.26,172.87L368.46,172.16L368.65,171.45L368.85,170.74L369.05,170.03L369.25,169.32L369.44,168.61L369.64,167.90L369.83,167.19L370.03,166.48L370.22,165.77L370.42,165.06L370.61,164.35L370.81,163.64L371.00,162.93L371.19,162.22L371.39,161.51L371.58,160.80L371.77,160.09L371.96,159.37L372.15,158.66L372.34,157.95L372.53,157.24L372.72,156.53L372.91,155.82L373.10,155.11L373.29,154.39L373.48,153.68L373.67,152.97L373.86,152.26L374.04,151.55L374.23,150.83L374.42,150.12L374.60,149.41L374.79,148.70L374.98,147.99L375.16,147.27L375.35,146.56L375.53,145.85L375.72,145.13L375.90,144.42L376.08,143.71L376.27,143.00L376.45,142.28L376.63,141.57L376.81,140.86L377.00,140.14L377.18,139.43L377.36,138.71L377.54,138.00L377.72,137.29L377.90,136.57L378.08,135.86L378.26,135.15L378.44,134.43L378.62,133.72L378.80,133.00L378.97,132.29L379.15,131.57L379.33,130.86L379.51,130.15L379.68,129.43L379.86,128.72L380.04,128.00L380.21,127.29L380.39,126.57L380.56,125.86L380.74,125.14L380.91,124.43L381.09,123.71L381.26,122.99L381.43,122.28L381.61,121.56L381.78,120.85L381.95,120.13L382.12,119.42L382.30,118.70L382.47,117.99L382.64,117.27L382.81,116.55L382.98,115.84L383.15,115.12L383.32,114.40L383.49,113.69L383.66,112.97L383.83,112.26L384.00,111.54L384.17,110.82L384.33,110.11L384.50,109.39L384.67,108.67L384.84,107.95L385.00,107.24L385.17,106.52L385.34,105.80L385.50,105.09L385.67,104.37L385.83,103.65L386.00,102.93L386.16,102.22L386.33,101.50L386.49,100.78L386.66,100.06L386.82,99.35L386.98,98.63L387.15,97.91L387.31,97.19L387.47,96.47L387.63,95.76L387.80,95.04L387.96,94.32L388.12,93.60L388.28,92.88L388.44,92.16L388.60,91.45L388.76,90.73L388.92,90.01L389.08,89.29L389.24,88.57L389.40,87.85L389.56,87.13L389.72,86.41L389.88,85.69L390.03,84.98L390.19,84.26L390.35,83.54L390.51,82.82L390.66,82.10L390.82,81.38L390.98,80.66L391.13,79.94L391.29,79.22L391.44,78.50L391.60,77.78L391.75,77.06L391.91,76.34L392.06,75.62L392.22,74.90L392.37,74.18L392.52,73.46L392.68,72.74L392.83,72.02L392.98,71.30L393.14,70.58L393.29,69.86L393.44,69.14L393.59,68.42L393.74,67.70L393.90,66.98L394.05,66.25L394.20,65.53L394.35,64.81L394.50,64.09L394.65,63.37L394.80,62.65L394.95,61.93L395.10,61.21L395.25,60.49L395.40,59.77L395.55,59.04L395.69,58.32L395.84,57.60L395.99,56.88L396.14,56.16L396.28,55.44L396.43,54.71L396.58,53.99L396.73,53.27L396.87,52.55L397.02,51.83L397.16,51.10L397.31,50.38L397.46,49.66L397.60,48.94L397.75,48.22L397.89,47.49L398.04,46.77L398.18,46.05L398.32,45.33L398.47,44.60L398.61,43.88L398.76,43.16L398.90,42.44L399.04,41.71L399.19,40.99L399.33,40.27L399.47,39.55L399.61,38.82L399.75,38.10L399.90,37.38L400.04,36.65L400.18,35.93L400.32,35.21L400.46,34.48L400.60,33.76L400.74,33.04L400.88,32.31L401.02,31.59L401.16,30.87L401.30,30.14L401.44,29.42L401.58,28.70L401.72,27.97L401.86,27.25L402.00,26.53L402.14,25.80L402.28,25.08L402.41,24.35L402.55,23.63L402.69,22.91L402.83,22.18L402.96,21.46L403.10,20.73L403.24,20.01L403.37,19.29L403.51,18.56L403.65,17.84L403.78,17.11L403.92,16.39L404.06,15.66L404.19,14.94L404.33,14.21L404.46,13.49L404.60,12.77L404.73,12.04L404.87,11.32L405.00,10.59" stroke="#000" stroke-width="1.4"/>
</g>
<g stroke="#333" stroke-width="1.1" fill="none">
<line x1="58.25" y1="6.5" x2="405.45" y2="6.5" stroke="#111" stroke-width="1"/>
<line x1="58.8" y1="6" x2="58.8" y2="290.29999999999995"/><line x1="404.9" y1="6" x2="404.9" y2="290.29999999999995"/><line x1="58.25" y1="289.7" x2="405.45" y2="289.7" stroke="#444" stroke-width="1.3"/>
</g>
<g stroke="#555" stroke-width="1.1" fill="none">
<line x1="116.48" y1="289.4" x2="116.48" y2="283.79999999999995"/><line x1="116.48" y1="6.4" x2="116.48" y2="12.4"/><line x1="174.17" y1="289.4" x2="174.17" y2="283.79999999999995"/><line x1="174.17" y1="6.4" x2="174.17" y2="12.4"/><line x1="231.85" y1="289.4" x2="231.85" y2="283.79999999999995"/><line x1="231.85" y1="6.4" x2="231.85" y2="12.4"/><line x1="289.53" y1="289.4" x2="289.53" y2="283.79999999999995"/><line x1="289.53" y1="6.4" x2="289.53" y2="12.4"/><line x1="347.22" y1="289.4" x2="347.22" y2="283.79999999999995"/><line x1="347.22" y1="6.4" x2="347.22" y2="12.4"/><line x1="58.8" y1="218.65" x2="65.0" y2="218.65"/><line x1="404.9" y1="218.65" x2="398.7" y2="218.65"/><line x1="58.8" y1="147.90" x2="65.0" y2="147.90"/><line x1="404.9" y1="147.90" x2="398.7" y2="147.90"/><line x1="58.8" y1="77.15" x2="65.0" y2="77.15"/><line x1="404.9" y1="77.15" x2="398.7" y2="77.15"/>
</g>
<g class="t"><text x="51.78" y="306.50">-</text><path d="M763 0H583V1147Q518 1085 412.5 1023Q307 961 223 930V1104Q374 1175 487 1276Q600 1377 647 1472H763Z" transform="translate(57.04,306.50) scale(0.00771,-0.00771)"/><text x="102.87" y="306.50">-</text><text x="108.13" y="306.50">0</text><text x="116.92" y="306.50">.</text><text x="121.31" y="306.50">5</text><text x="169.77" y="306.50">0</text><text x="220.87" y="306.50">0</text><text x="229.65" y="306.50">.</text><text x="234.05" y="306.50">5</text><path d="M763 0H583V1147Q518 1085 412.5 1023Q307 961 223 930V1104Q374 1175 487 1276Q600 1377 647 1472H763Z" transform="translate(285.14,306.50) scale(0.00771,-0.00771)"/><path d="M763 0H583V1147Q518 1085 412.5 1023Q307 961 223 930V1104Q374 1175 487 1276Q600 1377 647 1472H763Z" transform="translate(336.24,306.50) scale(0.00771,-0.00771)"/><text x="345.02" y="306.50">.</text><text x="349.41" y="306.50">5</text><text x="400.51" y="306.50">2</text><text x="44.32" y="294.70">0</text><text x="33.64" y="223.95">0</text><text x="42.42" y="223.95">.</text><text x="46.82" y="223.95">5</text><path d="M763 0H583V1147Q518 1085 412.5 1023Q307 961 223 930V1104Q374 1175 487 1276Q600 1377 647 1472H763Z" transform="translate(45.02,153.20) scale(0.00771,-0.00771)"/><path d="M763 0H583V1147Q518 1085 412.5 1023Q307 961 223 930V1104Q374 1175 487 1276Q600 1377 647 1472H763Z" transform="translate(33.64,82.45) scale(0.00771,-0.00771)"/><text x="42.42" y="82.45">.</text><text x="46.82" y="82.45">5</text><text x="44.62" y="11.70">2</text></g>
<g fill="none">
<line x1="197" y1="28.3" x2="249" y2="28.3" stroke="#000" stroke-width="1.4"/>
<line x1="197" y1="56.7" x2="249" y2="56.7" stroke="#f00" stroke-width="2.15" stroke-dasharray="12.2 3.8"/>
<line x1="197" y1="84.5" x2="247.3" y2="84.5" stroke="#00f" stroke-width="2.1" stroke-dasharray="8.65 3.4 2.3 3.4"/>
</g>
<g class="s" font-size="20.8px">
<text x="72.1" y="34">(<tspan class="i">k</tspan><tspan font-size="14.3px" dy="4.7">F</tspan><tspan class="i" dy="-4.7">a</tspan><tspan font-size="14.3px" dy="4.7">I</tspan><tspan dy="-4.7" dx="-0.8">)</tspan><tspan font-size="14.3px" dy="-8.3" dx="0.3">−1</tspan><tspan dy="8.3" dx="0.2"> = 0</tspan></text>
<text x="137.3" y="64">= 0.4</text>
<text x="137.3" y="93">= 0.8</text>
</g>
<g class="s" font-size="26.8px">
<text x="196.4" y="336.3">(<tspan class="i">k</tspan><tspan font-size="17.5px" dy="5">F</tspan><tspan class="i" dy="-5">a</tspan><tspan font-size="17.5px" dy="5">R</tspan><tspan dy="-5" dx="-0.8">)</tspan><tspan font-size="17.5px" dy="-10.6">−1</tspan></text>
<text transform="translate(18.8,188) rotate(-90)"><tspan class="i">E</tspan><tspan font-size="17.5px" dy="5">gap</tspan><tspan dy="-5" dx="4">/</tspan><tspan class="i">E</tspan><tspan font-size="17.5px" dy="5">F</tspan></text>
</g>
</svg>
</body></html>
